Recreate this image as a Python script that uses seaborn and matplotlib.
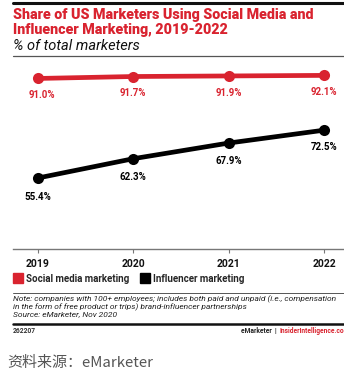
import matplotlib
matplotlib.use("Agg")
import matplotlib.pyplot as plt
from matplotlib.lines import Line2D
import seaborn as sns
import pandas as pd

years = [2019, 2020, 2021, 2022]
social = [91.0, 91.7, 91.9, 92.1]
influencer = [55.4, 62.3, 67.9, 72.5]
series_names = ["Social media marketing", "Influencer marketing"]
social_labels = ["91.0%", "91.7%", "91.9%", "92.1%"]
influencer_labels = ["55.4%", "62.3%", "67.9%", "72.5%"]

RED = "#d9232f"
BLACK = "#000000"

sns.set_theme(style="white")
plt.rcParams['font.family'] = ['Roboto', 'DejaVu Sans']

W, H = 344, 381
fig = plt.figure(figsize=(W / 100, H / 100), dpi=100)

def fx(px):
    return px / W

def fy(py):
    return 1 - py / H

# axes: left 13, right 344, top 53.3, bottom 249
ax = fig.add_axes([fx(13), fy(249), fx(344) - fx(13), (249 - 53.3) / H])

df = pd.DataFrame({
    "year": years * 2,
    "value": social + influencer,
    "series": [series_names[0]] * 4 + [series_names[1]] * 4,
})
sns.lineplot(data=df, x="year", y="value", hue="series",
             palette={series_names[0]: RED, series_names[1]: BLACK},
             linewidth=3.4, marker="o", markersize=8, markeredgewidth=0,
             legend=False, ax=ax)

ax.set_xlim(2018.738, 2022.21)
ax.set_ylim(30, 100)
ax.set_xlabel("")
ax.set_ylabel("")
for s in ["top", "right", "left"]:
    ax.spines[s].set_visible(False)
ax.spines["bottom"].set_color("#777777")
ax.spines["bottom"].set_linewidth(1.0)
ax.set_yticks([])
ax.set_xticks(years)
ax.set_xticklabels([str(y) for y in years], fontsize=7.5, fontweight="bold", color="#111111")
ax.tick_params(axis="x", length=3, width=0.8, color="#777777", pad=4, bottom=True)
ax.patch.set_alpha(0)

# data labels
soffsets = [(3, -12), (0, -12), (0, -12), (0, -12)]
for x, v, lab, off in zip(years, social, social_labels, soffsets):
    ax.annotate(lab, (x, v), xytext=off, textcoords="offset points",
                ha="center", va="center", fontsize=7, fontweight="bold", color=RED)
ioffsets = [(0, -14), (0, -13), (0, -13), (0, -12)]
for x, v, lab, off in zip(years, influencer, influencer_labels, ioffsets):
    ax.annotate(lab, (x, v), xytext=off, textcoords="offset points",
                ha="center", va="center", fontsize=7, fontweight="bold", color=BLACK)

# top rule
fig.add_artist(Line2D([fx(13), 1], [fy(3), fy(3)], color="#111111", linewidth=2.2))
# title
fig.text(fx(13), fy(8), "Share of US Marketers Using Social Media and\nInfluencer Marketing, 2019-2022",
         ha="left", va="top", fontsize=10.3, fontweight="black", color=RED, linespacing=1.12)
fig.text(fx(13), fy(39.5), "% of total marketers", ha="left", va="top",
         fontsize=10.5, style="italic", color="#111111")
fig.add_artist(Line2D([fx(13), 1], [fy(55.5), fy(55.5)], color="#555555", linewidth=0.9))

# legend
handles = [Line2D([], [], marker="s", ls="", color=RED, markersize=7),
           Line2D([], [], marker="s", ls="", color=BLACK, markersize=7)]
leg = fig.legend(handles, series_names, loc="center left", bbox_to_anchor=(fx(12.5), fy(278.5)),
                 ncol=2, frameon=False, handlelength=1.05, handletextpad=0.3,
                 columnspacing=1.1, borderpad=0, borderaxespad=0,
                 prop={"size": 7.0, "weight": "bold"})

fig.add_artist(Line2D([fx(13), 1], [fy(292.5), fy(292.5)], color="#555555", linewidth=0.7))
fig.text(fx(13), fy(295), "Note: companies with 100+ employees; includes both paid and unpaid (i.e., compensation\n"
         "in the form of free product or trips) brand-influencer partnerships\nSource: eMarketer, Nov 2020",
         ha="left", va="top", fontsize=6.05, style="italic", color="#222222", linespacing=1.1)
fig.add_artist(Line2D([fx(13), 1], [fy(323.5), fy(323.5)], color="#111111", linewidth=1.8))
fig.text(fx(13), fy(331), "262207", ha="left", va="center", fontsize=4.8, fontweight="bold", color="#333333")
fig.text(fx(280), fy(331), "eMarketer  |  ", ha="right", va="center", fontsize=4.8, fontweight="bold", color="#222222")
fig.text(fx(280), fy(331), "InsiderIntelligence.co", ha="left", va="center", fontsize=4.8, fontweight="bold", color=RED)

fig.text(fx(7), fy(363), "资料来源：eMarketer", ha="left", va="center", fontsize=10.8,
         color="#555555", family=["Noto Sans CJK SC", "DejaVu Sans"])

fig.savefig("out.png", dpi=100, facecolor="white")
